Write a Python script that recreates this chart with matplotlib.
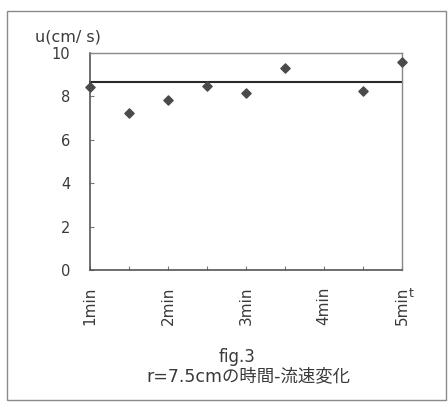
import matplotlib.pyplot as plt
from matplotlib.patches import Rectangle

# sample positions every 30 s (index 0 = 1min ... 8 = 5min)
positions = [0, 1, 2, 3, 4, 5, 7, 8]
velocity = [8.45, 7.23, 7.82, 8.49, 8.14, 9.29, 8.25, 9.57]
mean_level = 8.68
tick_positions = [0, 2, 4, 6, 8]
tick_labels = ["1min", "2min", "3min", "4min", "5min"]
y_ticks = [0, 2, 4, 6, 8, 10]

fam = ["DejaVu Sans", "Noto Sans CJK JP"]
ink = "#3a3a3a"

fig = plt.figure(figsize=(4.48, 4.03), dpi=100)
fig.patch.set_facecolor("white")

# outer frame
fig.patches.append(Rectangle((7 / 448, 3 / 403), 439 / 448, 389 / 403,
                             transform=fig.transFigure, fill=False,
                             edgecolor="#8a8a8a", linewidth=1.0))

ax = fig.add_axes([90 / 448, 133 / 403, 312 / 448, 217 / 403])
ax.axhline(mean_level, color="#2a2a2a", linewidth=1.5, clip_on=False)
ax.scatter(positions, velocity, marker="D", s=22, color="#4a4a4a",
           zorder=3, clip_on=False)

ax.set_xlim(0, 8)
ax.set_ylim(0, 10)
ax.set_yticks(y_ticks)
ax.set_yticklabels([str(v) for v in y_ticks], family=fam, fontsize=10.5,
                   color=ink)
ax.set_xticks(range(9))
ax.set_xticklabels(["" if i not in tick_positions else
                    tick_labels[tick_positions.index(i)] for i in range(9)],
                   rotation=90, family=fam, fontsize=11, color=ink)
ax.tick_params(axis="both", direction="in", length=3, color="#777777")
ax.tick_params(axis="y", pad=14)
ax.tick_params(axis="x", pad=12)
for side in ["top", "right"]:
    ax.spines[side].set_color("#888888")
    ax.spines[side].set_linewidth(1.0)
for side in ["left", "bottom"]:
    ax.spines[side].set_color("#555555")
    ax.spines[side].set_linewidth(1.2)

fig.text(35 / 448, 1 - 41 / 403, "u(cm/ s)", family=fam, fontsize=11.5,
         color=ink, va="baseline")
fig.text(409 / 448, 1 - 297 / 403, "t", family=fam, fontsize=9, color=ink)
fig.text(237 / 448, 1 - 362 / 403, "fig.3", family=fam, fontsize=12,
         color=ink, ha="center", va="baseline")
fig.text(248 / 448, 1 - 381 / 403, "r=7.5cmの時間-流速変化", family=fam,
         fontsize=12.5, color=ink, ha="center", va="baseline")

fig.savefig("out.png", dpi=100)
